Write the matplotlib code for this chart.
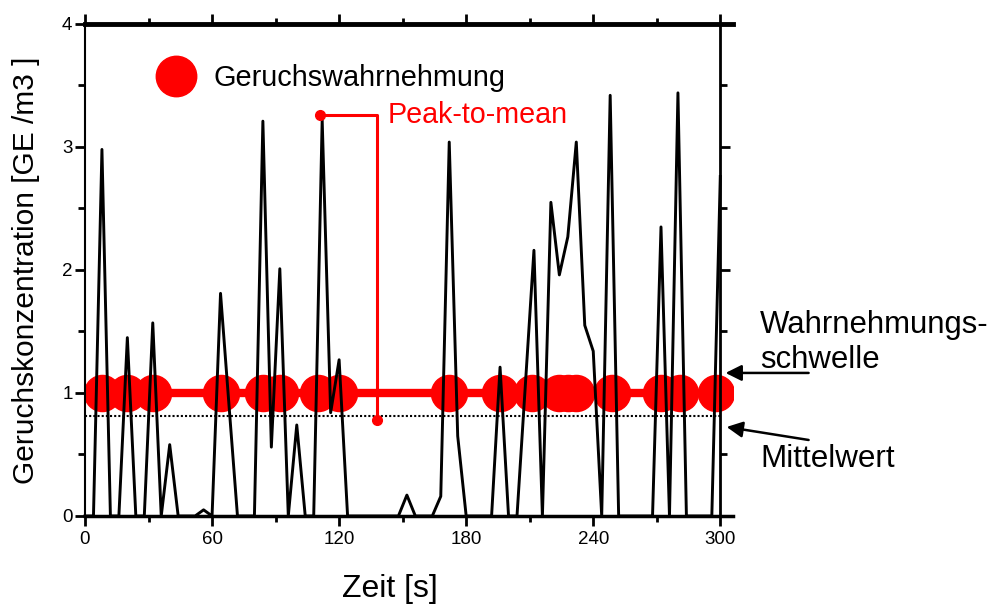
import matplotlib.pyplot as plt
import numpy as np
from matplotlib.ticker import MultipleLocator

plt.rcParams['font.family'] = 'sans-serif'
plt.rcParams['font.sans-serif'] = ['Liberation Sans', 'DejaVu Sans']

# odour concentration, one sample every 4 s
zeit = np.arange(0, 301, 4)
konzentration = [0, 0, 2.98, 0, 0, 1.45, 0, 0, 1.57, 0,
                 0.58, 0, 0, 0, 0.05, 0, 1.81, 0.9, 0, 0,
                 0, 3.21, 0.56, 2.01, 0, 0.74, 0, 0, 3.22, 0.84,
                 1.27, 0, 0, 0, 0, 0, 0, 0, 0.17, 0,
                 0, 0, 0.16, 3.04, 0.65, 0, 0, 0, 0, 1.21,
                 0, 0, 1.08, 2.16, 0, 2.55, 1.96, 2.27, 3.04, 1.55,
                 1.34, 0, 3.42, 0, 0, 0, 0, 0, 2.35, 0,
                 3.44, 0, 0, 0, 0, 2.76]

# moments of odour perception (above threshold)
wahrnehmung_t = [8, 20, 32, 64, 84, 92, 110, 120, 172, 196, 211,
                 224, 228, 232, 249, 272, 281, 298]

schwelle = 1.0
mittelwert = 0.81

# peak-to-mean bracket
peak_t, peak_y = 111, 3.26
bracket_t, mean_y = 138, 0.78

x_max = 306
red = '#FF0000'

fig = plt.figure(figsize=(10, 6.04), dpi=100)
ax = fig.add_subplot(111)
fig.subplots_adjust(left=0.085, right=0.733, bottom=0.1457, top=0.9603)

# threshold line with perception markers
ax.hlines(schwelle, zeit[0], zeit[-1], colors=red, linewidth=6, zorder=2)
ax.plot(wahrnehmung_t, [schwelle] * len(wahrnehmung_t), 'o', color=red,
        markeredgecolor=red, markersize=26, zorder=2, label='Geruchswahrnehmung')

# mean line
ax.hlines(mittelwert, zeit[0], zeit[-1], colors='black', linestyles=(0, (1, 1)),
          linewidth=1.5, zorder=3)

# concentration time series
ax.plot(zeit, konzentration, color='black', linewidth=2.1, zorder=4, clip_on=False)

# peak-to-mean
ax.plot([peak_t, bracket_t, bracket_t], [peak_y, peak_y, mean_y], color=red,
        linewidth=2.2, zorder=5)
ax.plot([peak_t, bracket_t], [peak_y, mean_y], 'o', color=red, markersize=7, zorder=5)
ax.text(bracket_t + 5, peak_y, 'Peak-to-mean', color=red, fontsize=20.7,
        ha='left', va='center')

# right hand annotations
ax.text(318.7, 1.203, 'Wahrnehmungs-\nschwelle', fontsize=22.4, ha='left',
        va='baseline', linespacing=1.2)
ax.text(318.7, 0.398, 'Mittelwert', fontsize=22.6, ha='left', va='baseline')
arrow = dict(arrowstyle='-|>', color='black', lw=1.8, mutation_scale=24,
             shrinkA=0, shrinkB=0)
ax.annotate('', xy=(302.5, 1.163), xytext=(341.7, 1.163), arrowprops=arrow,
            annotation_clip=False)
ax.annotate('', xy=(303.0, 0.724), xytext=(341.7, 0.618), arrowprops=arrow,
            annotation_clip=False)

# legend
ax.legend(loc='center left', bbox_to_anchor=(0.1185, 0.89), frameon=False,
          fontsize=20.8, handlelength=1.0, handletextpad=0.8, borderpad=0,
          borderaxespad=0, markerscale=1.12)

# axes
ax.set_xlim(0, x_max)
ax.set_ylim(0, 4)
ax.xaxis.set_major_locator(MultipleLocator(60))
ax.xaxis.set_minor_locator(MultipleLocator(30))
ax.yaxis.set_major_locator(MultipleLocator(1))
ax.yaxis.set_minor_locator(MultipleLocator(0.5))

ax.spines['right'].set_position(('data', 300))
ax.spines['left'].set_linewidth(1.5)
ax.spines['right'].set_linewidth(2)
ax.spines['top'].set_linewidth(3.5)
ax.spines['bottom'].set_linewidth(2.5)

ax.tick_params(axis='x', which='both', direction='out', top=True, bottom=True,
               labelsize=13.5, width=2, pad=4)
ax.tick_params(axis='x', which='major', length=7)
ax.tick_params(axis='x', which='minor', length=4)
ax.tick_params(axis='y', which='both', direction='out', left=True, right=True,
               labelsize=13.5, width=2, pad=2)
ax.tick_params(axis='y', which='major', length=7)
ax.tick_params(axis='y', which='minor', length=5)

ax.set_xlabel('Zeit [s]', fontsize=23)
ax.set_ylabel('Geruchskonzentration [GE /m3 ]', fontsize=21.5)
ax.xaxis.label.set_va('center')
ax.yaxis.label.set_va('center')
ax.xaxis.set_label_coords(0.47, -0.148)
ax.yaxis.set_label_coords(-0.091, 0.5)

fig.savefig('out.png', dpi=100)
plt.close()
